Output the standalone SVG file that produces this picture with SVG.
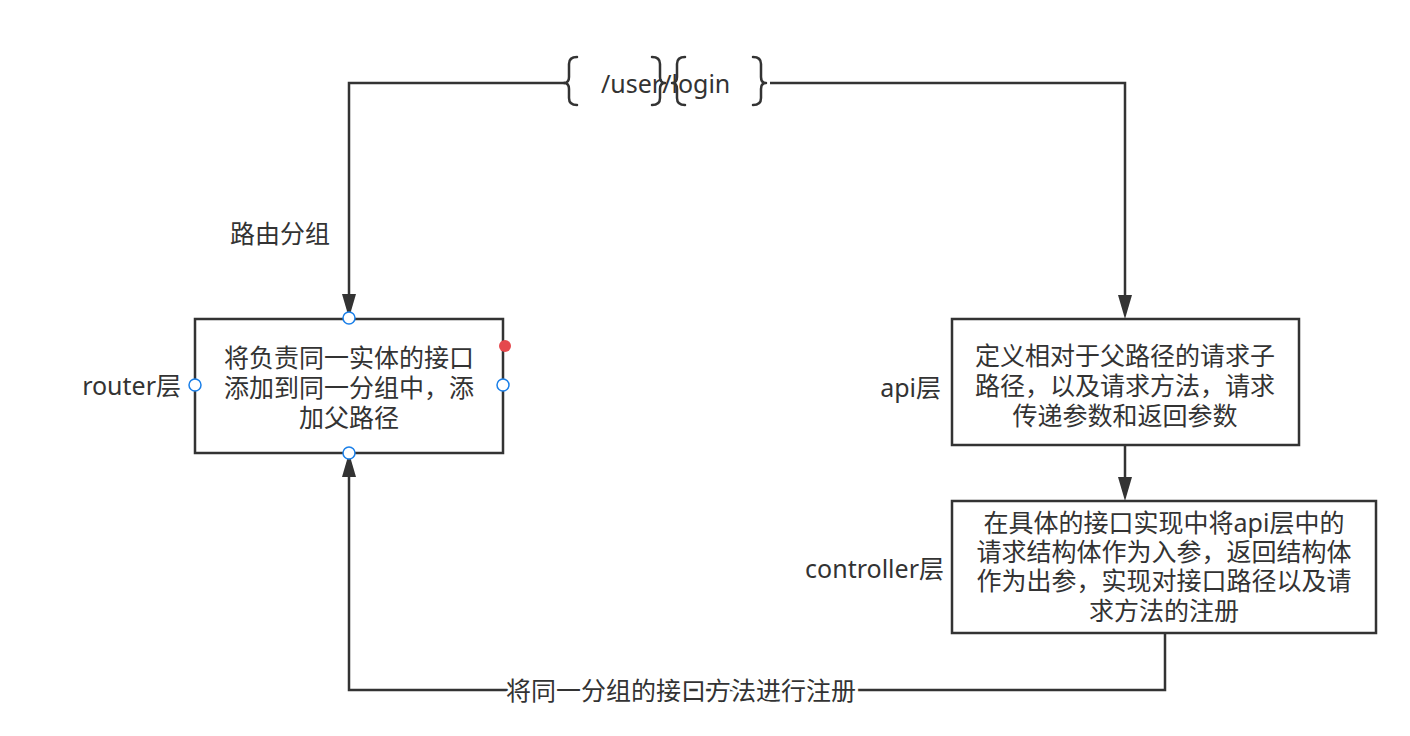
<svg xmlns="http://www.w3.org/2000/svg" width="1410" height="736" viewBox="0 0 1410 736">
  <style>
    .box { fill: #ffffff; stroke: #333333; stroke-width: 2.5; }
    .edge { fill: none; stroke: #333333; stroke-width: 2.5; }
    .brace { fill: none; stroke: #333333; stroke-width: 2.5; stroke-linecap: round; stroke-linejoin: round; }
    .txt { font-family: "Noto Sans", "Noto Sans CJK SC", sans-serif; font-size: 25px; fill: #333333; dominant-baseline: central; }
    .mid { text-anchor: middle; }
    .end { text-anchor: end; }
    .port { fill: #ffffff; stroke: #1a7fe8; stroke-width: 1.5; }
  </style>
  <defs>
    <marker id="arrow" markerUnits="userSpaceOnUse" viewBox="0 0 24 16" markerWidth="24" markerHeight="16" refX="12" refY="8" orient="auto">
      <path d="M0,1 L24,8 L0,15 Z" fill="#333333"/>
    </marker>
  </defs>

  <rect width="1410" height="736" fill="#ffffff"/>

  <!-- connectors -->
  <g id="connectors">
    <!-- path prefix split toward router and api -->
    <path class="edge" d="M565,83 L349,83 L349,306" marker-end="url(#arrow)"/>
    <path class="edge" d="M770,83 L1125,83 L1125,307" marker-end="url(#arrow)"/>
    <!-- api to controller -->
    <path class="edge" d="M1125,446 L1125,489" marker-end="url(#arrow)"/>
    <!-- controller back to router -->
    <path class="edge" d="M1165,633 L1165,690 L349,690 L349,465" marker-end="url(#arrow)"/>
    <text class="txt mid" x="681" y="690" style="paint-order:stroke" stroke="#ffffff" stroke-width="6">将同一分组的接口方法进行注册</text>
    <text class="txt mid" x="280" y="233">路由分组</text>
  </g>

  <!-- route path with braces -->
  <g id="route-path">
    <path class="brace" d="M577,57 Q569,57 569,64 L569,77 Q569,83 564,83 Q569,83 569,89 L569,98 Q569,105 577,105"/>
    <path class="brace" d="M652,57 Q660,57 660,64 L660,77 Q660,83 665,83 Q660,83 660,89 L660,98 Q660,105 652,105"/>
    <path class="brace" d="M685,57 Q677,57 677,64 L677,77 Q677,83 672,83 Q677,83 677,89 L677,98 Q677,105 685,105"/>
    <path class="brace" d="M753,57 Q761,57 761,64 L761,77 Q761,83 766,83 Q761,83 761,89 L761,98 Q761,105 753,105"/>
    <text class="txt" x="601" y="83">/user/login</text>
  </g>

  <!-- router layer -->
  <g id="router">
    <rect class="box" x="195" y="319" width="308" height="134"/>
    <text class="txt mid"><tspan x="349" y="357">将负责同一实体的接口</tspan><tspan x="349" y="387">添加到同一分组中，添</tspan><tspan x="349" y="417">加父路径</tspan></text>
    <text class="txt end" x="181" y="385">router层</text>
    <circle class="port" cx="349" cy="318" r="6"/>
    <circle class="port" cx="195" cy="385" r="6"/>
    <circle class="port" cx="503" cy="385" r="6"/>
    <circle class="port" cx="349" cy="453" r="6"/>
    <circle cx="505" cy="346" r="6" fill="#e5484d"/>
  </g>

  <!-- api layer -->
  <g id="api">
    <rect class="box" x="952" y="319" width="347" height="126"/>
    <text class="txt mid"><tspan x="1125" y="355">定义相对于父路径的请求子</tspan><tspan x="1125" y="385">路径，以及请求方法，请求</tspan><tspan x="1125" y="415">传递参数和返回参数</tspan></text>
    <text class="txt end" x="941" y="387">api层</text>
  </g>

  <!-- controller layer -->
  <g id="controller">
    <rect class="box" x="952" y="501" width="424" height="132"/>
    <text class="txt mid"><tspan x="1164" y="522">在具体的接口实现中将api层中的</tspan><tspan x="1164" y="551">请求结构体作为入参，返回结构体</tspan><tspan x="1164" y="580">作为出参，实现对接口路径以及请</tspan><tspan x="1164" y="610">求方法的注册</tspan></text>
    <text class="txt end" x="944" y="568">controller层</text>
  </g>
</svg>
